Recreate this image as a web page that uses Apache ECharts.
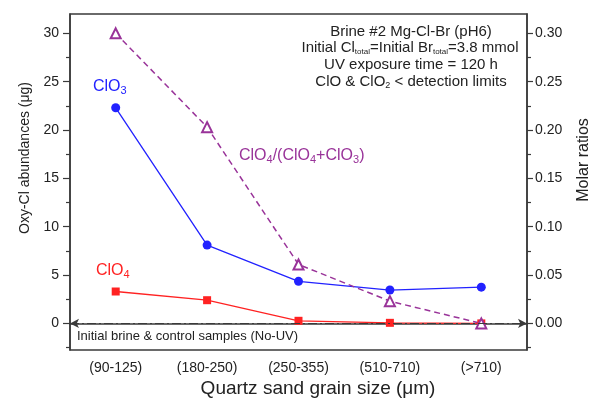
<!DOCTYPE html>
<html>
<head>
<meta charset="utf-8">
<script src="https://cdn.jsdelivr.net/npm/echarts@6/dist/echarts.min.js"></script>
<style>
  html, body { margin: 0; padding: 0; background: #fff; }
  #chart { width: 595px; height: 401px; }
</style>
</head>
<body>
<div id="chart"></div>
<script>
// data
const categories = ['(90-125)', '(180-250)', '(250-355)', '(510-710)', '(>710)'];
const clo3Values = [22.3, 8.1, 4.35, 3.45, 3.75];
const clo4Values = [3.3, 2.4, 0.27, 0.06, 0.0];
const ratioValues = [0.30, 0.203, 0.061, 0.023, 0.0];
const leftTicks = [0, 5, 10, 15, 20, 25, 30];
const leftMinorTicks = [-2.5, 2.5, 7.5, 12.5, 17.5, 22.5, 27.5];
const rightTicks = [0, 0.05, 0.1, 0.15, 0.2, 0.25, 0.3];
const rightMinorTicks = [-0.025, 0.025, 0.075, 0.125, 0.175, 0.225, 0.275];

const FONT = '"Liberation Sans", Arial, sans-serif';
const BLUE = '#2222ff';
const RED = '#ff2222';
const PURPLE = '#993399';
const AXIS = '#3a3a3a';

const chart = echarts.init(document.getElementById('chart'));

// small helper for texts with subscripts
function subText(x, y, text, color, size, subSize, drop, align) {
  return {
    type: 'text', x: x, y: y, silent: true,
    style: {
      text: text, fill: color, font: size + 'px ' + FONT, align: align || 'left', verticalAlign: 'top',
      rich: {
        m: { fontSize: size, fontFamily: FONT, fill: color, verticalAlign: 'top' },
        s: { fontSize: subSize, fontFamily: FONT, fill: color, verticalAlign: 'top', padding: [drop, 0, 0, 0] }
      }
    }
  };
}

function plainText(x, y, text, size, align) {
  return {
    type: 'text', x: x, y: y, silent: true,
    style: { text: text, fill: '#222', font: size + 'px ' + FONT, align: align || 'center', verticalAlign: 'middle' }
  };
}

function valueAxis(min, max, pos, ticks, len, showLabel, showLine, digits, margin) {
  return {
    type: 'value', position: pos, offset: 0, min: min, max: max,
    splitLine: { show: false },
    axisLine: { show: showLine, lineStyle: { color: AXIS, width: 1.5 } },
    axisTick: { show: true, inside: false, length: len, customValues: ticks, lineStyle: { color: AXIS, width: 1.2 } },
    axisLabel: {
      show: showLabel, customValues: ticks, color: '#222', fontSize: 14, fontFamily: FONT, margin: margin,
      formatter: v => v.toFixed(digits)
    }
  };
}

const option = {
  animation: false,
  grid: { left: 70, right: 68, top: 14, bottom: 51, show: true, borderColor: AXIS, borderWidth: 1.5 },
  xAxis: [
    {
      type: 'category', data: categories, boundaryGap: true, position: 'bottom', offset: 0,
      axisLine: { lineStyle: { color: AXIS, width: 1.5 } },
      axisTick: { alignWithLabel: true, length: 7, lineStyle: { color: AXIS, width: 1.2 } },
      axisLabel: { color: '#222', fontSize: 14, fontFamily: FONT, margin: 11 }
    },
    {
      type: 'category', data: categories, boundaryGap: true, position: 'bottom', offset: 0,
      axisLine: { show: false },
      axisTick: { alignWithLabel: false, length: 4, lineStyle: { color: AXIS, width: 1.2 } },
      axisLabel: { show: false }
    }
  ],
  yAxis: [
    valueAxis(-2.75, 32, 'left', leftTicks, 7, true, true, 0, 11),
    valueAxis(-2.75, 32, 'left', leftMinorTicks, 4, false, false, 0, 11),
    valueAxis(-0.0275, 0.32, 'right', rightTicks, 6, true, true, 2, 8),
    valueAxis(-0.0275, 0.32, 'right', rightMinorTicks, 4, false, false, 2, 8)
  ],
  series: [
    {
      name: 'ClO4', type: 'line', data: clo4Values, yAxisIndex: 0,
      symbol: 'rect', symbolSize: 8,
      lineStyle: { color: RED, width: 1.3 }, itemStyle: { color: RED },
      markLine: {
        silent: true, symbol: ['arrow', 'arrow'], symbolSize: [7, 9],
        label: { show: false },
        lineStyle: { color: AXIS, width: 1.2, type: [9, 3, 2, 3] },
        data: [{ yAxis: 0 }]
      }
    },
    {
      name: 'ClO3', type: 'line', data: clo3Values, yAxisIndex: 0,
      symbol: 'circle', symbolSize: 9,
      lineStyle: { color: BLUE, width: 1.3 }, itemStyle: { color: BLUE }
    },
    {
      name: 'ratio', type: 'line', data: ratioValues, yAxisIndex: 2,
      symbol: 'emptyTriangle', symbolSize: 10,
      lineStyle: { color: PURPLE, width: 1.5, type: [6, 4] },
      itemStyle: { color: PURPLE, borderColor: PURPLE, borderWidth: 1.5 }
    }
  ],
  graphic: [
    // axis titles
    Object.assign(plainText(25, 158, 'Oxy-Cl abundances (μg)', 14), { rotation: Math.PI / 2 }),
    Object.assign(plainText(584, 160, 'Molar ratios', 16), { rotation: Math.PI / 2 }),
    plainText(318, 389, 'Quartz sand grain size (μm)', 19),
    // series labels
    subText(93, 79, '{m|ClO}{s|3}', BLUE, 16, 11, 6),
    subText(96, 263, '{m|ClO}{s|4}', RED, 16, 11, 6),
    subText(239, 148, '{m|ClO}{s|4}{m|/(ClO}{s|4}{m|+ClO}{s|3}{m|)}', PURPLE, 16, 11, 6),
    // baseline note
    plainText(77, 336, 'Initial brine & control samples (No-UV)', 13, 'left'),
    // top-right annotation
    plainText(411, 32, 'Brine #2 Mg-Cl-Br (pH6)', 15),
    subText(410, 40, '{m|Initial Cl}{s|total}{m|=Initial Br}{s|total}{m|=3.8 mmol}', '#222', 15, 8, 8, 'center'),
    plainText(411, 65, 'UV exposure time = 120 h', 15),
    subText(411, 74, '{m|ClO & ClO}{s|2}{m| < detection limits}', '#222', 15, 9, 7, 'center')
  ]
};

chart.setOption(option);
</script>
</body>
</html>
